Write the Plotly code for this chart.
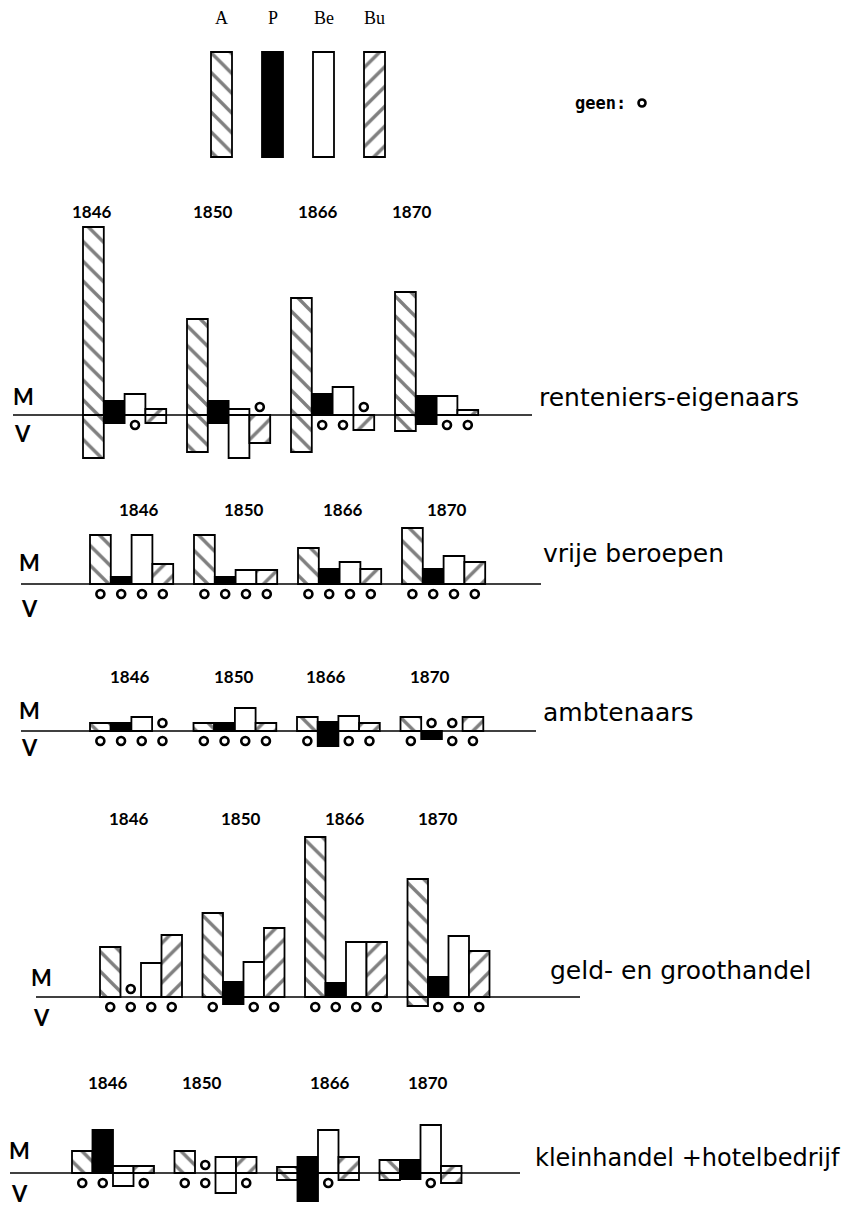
import plotly.graph_objects as go

# Screen is 855x1207; the page body has an 8px margin, so the figure is 847x1199
OFF = 8
W, H = 855 - OFF, 1207 - OFF

categories = ["A", "P", "Be", "Bu"]
years = ["1846", "1850", "1866", "1870"]
sectors = ["renteniers-eigenaars", "vrije beroepen", "ambtenaars",
           "geld- en groothandel", "kleinhandel +hotelbedrijf"]

# M = mannen (above the line), V = vrouwen (below the line); 0 = geen
rent_M = {"A": [188, 96, 117, 123], "P": [14, 14, 21, 19], "Be": [21, 6, 28, 19], "Bu": [6, 0, 0, 5]}
rent_V = {"A": [43, 37, 37, 16], "P": [8, 8, 0, 9], "Be": [0, 43, 0, 0], "Bu": [8, 28, 15, 0]}
vrij_M = {"A": [49, 49, 36, 56], "P": [7, 7, 15, 15], "Be": [49, 14, 22, 28], "Bu": [20, 14, 15, 22]}
vrij_V = {"A": [0, 0, 0, 0], "P": [0, 0, 0, 0], "Be": [0, 0, 0, 0], "Bu": [0, 0, 0, 0]}
ambt_M = {"A": [8, 8, 14, 14], "P": [8, 8, 9, 0], "Be": [14, 23, 15, 0], "Bu": [0, 8, 8, 14]}
ambt_V = {"A": [0, 0, 0, 0], "P": [0, 0, 15, 8], "Be": [0, 0, 0, 0], "Bu": [0, 0, 0, 0]}
geld_M = {"A": [50, 84, 160, 118], "P": [0, 15, 14, 20], "Be": [34, 35, 55, 61], "Bu": [62, 69, 55, 46]}
geld_V = {"A": [0, 0, 0, 9], "P": [0, 7, 0, 0], "Be": [0, 0, 0, 0], "Bu": [0, 0, 0, 0]}
klein_M = {"A": [22, 22, 6, 13], "P": [43, 0, 16, 13], "Be": [7, 16, 43, 48], "Bu": [7, 16, 16, 7]}
klein_V = {"A": [0, 0, 7, 7], "P": [0, 0, 28, 6], "Be": [13, 20, 0, 0], "Bu": [0, 0, 7, 10]}

panel_M = [rent_M, vrij_M, ambt_M, geld_M, klein_M]
panel_V = [rent_V, vrij_V, ambt_V, geld_V, klein_V]

# ---- layout geometry (screen pixels) ----
baseline_y = [415, 584, 731, 997, 1173]
group_left = [83, 90, 90, 100, 72]
slot_w = [20.8, 20.8, 20.7, 20.5, 20.5]
line_x = [(13, 532), (21, 541), (21, 536), (36, 580), (10, 520)]
year_pos = [
    [(92, 211), (213, 211), (318, 211), (412, 211)],
    [(139, 509), (244, 509), (343, 509), (447, 509)],
    [(130, 676), (234, 676), (326, 676), (430, 676)],
    [(129, 818), (241, 818), (345, 818), (438, 818)],
    [(108, 1082), (202, 1082), (330, 1082), (428, 1082)],
]
mv_pos = [((23, 397), (22, 434)), ((29, 562), (29, 608)), ((29, 710), (29, 747)),
          ((41, 977), (41, 1017)), ((19, 1150), (19, 1193))]
label_pos = [(537, 398), (541, 553), (541, 712), (548, 971), (533, 1158)]
label_size = [25, 25, 25, 25, 24]

BLACK = "black"
hatch = dict(fgcolor=BLACK, bgcolor="white", size=14, solidity=0.24)
styles = {
    "A": dict(color="white", line=dict(color=BLACK, width=1.8), pattern=dict(shape="\\", **hatch)),
    "P": dict(color=BLACK, line=dict(color=BLACK, width=1.8)),
    "Be": dict(color="white", line=dict(color=BLACK, width=1.8)),
    "Bu": dict(color="white", line=dict(color=BLACK, width=1.8), pattern=dict(shape="/", **hatch)),
}
ring = dict(symbol="circle-open", size=8, color=BLACK, line=dict(width=2.6, color=BLACK))
ring_up, ring_down = 8, -10


def px(x):
    return (x - OFF) / W


def py(y):
    return 1 - (y - OFF) / H


fig = go.Figure()
layout = dict(width=W, height=H, margin=dict(l=0, r=0, t=0, b=0),
              paper_bgcolor="white", plot_bgcolor="rgba(0,0,0,0)",
              barmode="overlay", showlegend=False)
annotations = []
shapes = []

for k in range(5):
    ax = "" if k == 0 else str(k + 1)
    xname, yname = "x" + ax, "y" + ax
    s, L, B = slot_w[k], group_left[k] - OFF, baseline_y[k] - OFF
    xmin = -0.5 - L / s
    layout["xaxis" + ax] = dict(domain=[0, 1], range=[xmin, xmin + W / s], visible=False,
                                anchor=yname, fixedrange=True)
    layout["yaxis" + ax] = dict(domain=[0, 1], range=[B - H, B], visible=False,
                                anchor=xname, fixedrange=True)
    Mv, Vv = panel_M[k], panel_V[k]
    for i, c in enumerate(categories):
        xs = [g * 5 + i for g in range(len(years))]
        m = [v if v else None for v in Mv[c]]
        vv = [-v if v else None for v in Vv[c]]
        fig.add_trace(go.Bar(x=xs, y=m, width=1, marker=styles[c], xaxis=xname, yaxis=yname,
                             hoverinfo="skip"))
        fig.add_trace(go.Bar(x=xs, y=vv, width=1, marker=styles[c], xaxis=xname, yaxis=yname,
                             hoverinfo="skip"))
        cx, cy = [], []
        for g, x in enumerate(xs):
            if not Mv[c][g]:
                cx.append(x); cy.append(ring_up)
            if not Vv[c][g]:
                cx.append(x); cy.append(ring_down)
        if cx:
            fig.add_trace(go.Scatter(x=cx, y=cy, mode="markers", marker=ring,
                                     xaxis=xname, yaxis=yname, hoverinfo="skip"))
    shapes.append(dict(type="line", xref="paper", yref=yname, x0=px(line_x[k][0]), x1=px(line_x[k][1]),
                       y0=0, y1=0, line=dict(color=BLACK, width=1.6)))
    for yr, (yx, yy) in zip(years, year_pos[k]):
        annotations.append(dict(text="<b>" + yr + "</b>", x=px(yx), y=py(yy), xref="paper", yref="paper",
                                showarrow=False, xanchor="center", yanchor="middle",
                                font=dict(family="Lato", size=17, color=BLACK)))
    (mx, my), (vx, vy) = mv_pos[k]
    for t, (tx, ty) in (("M", (mx, my)), ("V", (vx, vy))):
        annotations.append(dict(text="<b>" + t + "</b>", x=px(tx), y=py(ty), xref="paper", yref="paper",
                                showarrow=False, xanchor="center", yanchor="middle",
                                font=dict(family="Lato", size=22, color=BLACK)))
    lx, ly = label_pos[k]
    annotations.append(dict(text=sectors[k], x=px(lx), y=py(ly), xref="paper", yref="paper",
                            showarrow=False, xanchor="left", yanchor="middle",
                            font=dict(family="DejaVu Sans", size=label_size[k], color=BLACK)))

# ---- key at the top ----
key_height = [1, 1, 1, 1]
key_s, key_c0, key_top, key_bot = 51, 221.5, 52, 157
kxmin = -(key_c0 - OFF) / key_s
unit = key_bot - key_top
kb = key_bot - OFF
layout["xaxis6"] = dict(domain=[0, 1], range=[kxmin, kxmin + W / key_s], visible=False,
                        anchor="y6", fixedrange=True)
layout["yaxis6"] = dict(domain=[0, 1], range=[(kb - H) / unit, kb / unit], visible=False,
                        anchor="x6", fixedrange=True)
for i, c in enumerate(categories):
    fig.add_trace(go.Bar(x=[i], y=[key_height[i]], width=21 / key_s, marker=styles[c],
                         xaxis="x6", yaxis="y6", hoverinfo="skip"))
    annotations.append(dict(text=c, x=i, y=key_height[i], xref="x6", yref="y6", yshift=34,
                            showarrow=False, xanchor="center", yanchor="middle",
                            font=dict(family="Liberation Serif", size=18, color=BLACK)))

annotations.append(dict(text="<b>geen:</b>", x=px(600), y=py(103), xref="paper", yref="paper",
                        showarrow=False, xanchor="center", yanchor="middle",
                        font=dict(family="DejaVu Sans Mono", size=17, color=BLACK)))
shapes.append(dict(type="circle", xref="paper", yref="paper", xsizemode="pixel", ysizemode="pixel",
                   xanchor=px(642), yanchor=py(103), x0=-3.5, x1=3.5, y0=-3.5, y1=3.5,
                   line=dict(color=BLACK, width=2.6)))

layout["annotations"] = annotations
layout["shapes"] = shapes
fig.update_layout(**layout)
fig.write_html("out.html")
